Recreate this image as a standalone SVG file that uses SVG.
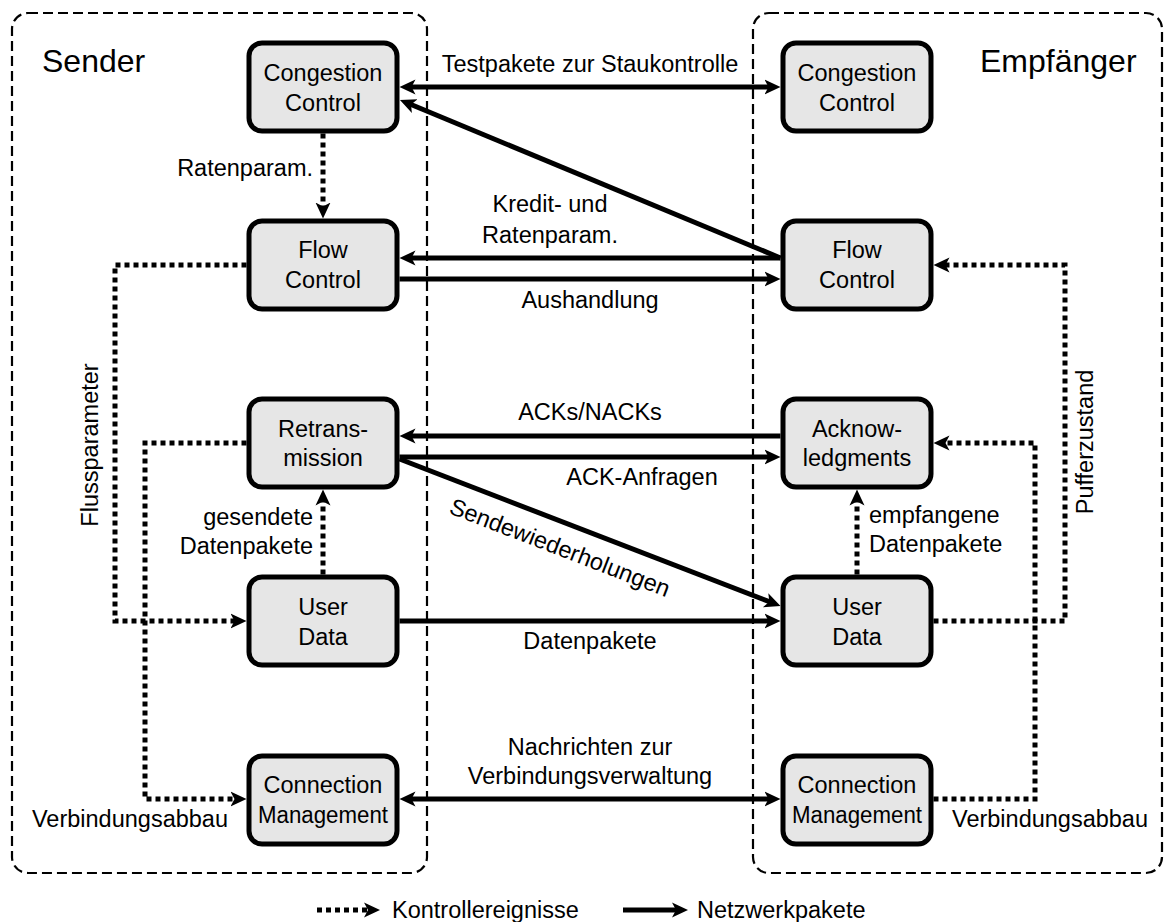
<svg xmlns="http://www.w3.org/2000/svg" width="1165" height="922" viewBox="0 0 1165 922">
  <style>
    text { font-family: "Liberation Sans", Arial, Helvetica, sans-serif; fill: #000; }
    .lbl { font-size: 23.5px; }
    .title { font-size: 32px; }
    .node rect { fill: #e6e6e6; stroke: #000; stroke-width: 5; }
    .node text { font-size: 23.5px; text-anchor: middle; }
    .region { fill: none; stroke: #000; stroke-width: 2.2; stroke-dasharray: 10 5; }
    .net { fill: none; stroke: #000; stroke-width: 5; marker-end: url(#arrow); }
    .both { marker-start: url(#arrowStart); }
    .ctl { fill: none; stroke: #000; stroke-width: 5; stroke-dasharray: 5 4; marker-end: url(#arrow); }
    .mid { text-anchor: middle; }
    .end { text-anchor: end; }
  </style>
  <defs>
    <marker id="arrow" markerUnits="userSpaceOnUse" viewBox="0 -10 20 20" markerWidth="20" markerHeight="20" refX="6" refY="0" orient="auto">
      <path d="M16,0 L0,-7.5 L4,0 L0,7.5 Z" fill="#000"/>
    </marker>
    <marker id="arrowStart" markerUnits="userSpaceOnUse" viewBox="0 -10 20 20" markerWidth="20" markerHeight="20" refX="6" refY="0" orient="auto-start-reverse">
      <path d="M16,0 L0,-7.5 L4,0 L0,7.5 Z" fill="#000"/>
    </marker>
  </defs>

  <!-- endpoint regions -->
  <g id="regions">
    <rect class="region" x="12" y="13" width="415" height="860" rx="16"/>
    <rect class="region" x="753" y="13" width="409" height="860" rx="16"/>
    <text class="title" x="42" y="72">Sender</text>
    <text class="title" x="980" y="72">Empfänger</text>
  </g>

  <!-- connectors -->
  <g id="connectors">
    <!-- network packets -->
    <path class="net both" d="M409.5,87 L770.5,87"/>
    <path class="net" d="M780.5,258 L409.2,103.8"/>
    <path class="net" d="M780.5,258 L409.5,258"/>
    <path class="net" d="M399.5,279 L770.5,279"/>
    <path class="net" d="M780.5,436 L409.5,436"/>
    <path class="net" d="M399.5,457 L770.5,457"/>
    <path class="net" d="M399.5,459 L771.2,602.4"/>
    <path class="net" d="M399.5,621 L770.5,621"/>
    <path class="net both" d="M409.5,799 L770.5,799"/>
    <!-- control events -->
    <path class="ctl" d="M323,133.5 L323,208.5"/>
    <path class="ctl" d="M323,574.5 L323,499.5"/>
    <path class="ctl" d="M857,574.5 L857,499.5"/>
    <path class="ctl" d="M246.5,265 L115,265 L115,621 L236.5,621"/>
    <path class="ctl" d="M246.5,443 L145,443 L145,799 L236.5,799"/>
    <path class="ctl" d="M933.5,621 L1065,621 L1065,265 L943.5,265"/>
    <path class="ctl" d="M933.5,799 L1035,799 L1035,443 L943.5,443"/>

    <!-- connector labels -->
    <text class="lbl mid" x="590" y="72">Testpakete zur Staukontrolle</text>
    <text class="lbl mid" x="550" y="212">Kredit- und</text>
    <text class="lbl mid" x="550" y="243">Ratenparam.</text>
    <text class="lbl mid" x="590" y="308">Aushandlung</text>
    <text class="lbl mid" x="590" y="420">ACKs/NACKs</text>
    <text class="lbl mid" x="642" y="485">ACK-Anfragen</text>
    <text class="lbl mid" transform="translate(557,555) rotate(21.1)" x="0" y="0">Sendewiederholungen</text>
    <text class="lbl mid" x="590" y="649">Datenpakete</text>
    <text class="lbl mid" x="590" y="755">Nachrichten zur</text>
    <text class="lbl mid" x="590" y="784">Verbindungsverwaltung</text>
    <text class="lbl end" x="313" y="176">Ratenparam.</text>
    <text class="lbl end" x="313" y="525">gesendete</text>
    <text class="lbl end" x="313" y="554">Datenpakete</text>
    <text class="lbl" x="869" y="523">empfangene</text>
    <text class="lbl" x="869" y="552">Datenpakete</text>
    <text class="lbl mid" transform="translate(98,445) rotate(-90)" x="0" y="0">Flussparameter</text>
    <text class="lbl mid" transform="translate(1093,442) rotate(-90)" x="0" y="0">Pufferzustand</text>
    <text class="lbl end" x="228" y="827">Verbindungsabbau</text>
    <text class="lbl" x="952" y="827">Verbindungsabbau</text>
  </g>

  <!-- sender nodes -->
  <g id="s-congestion" class="node">
    <rect x="249" y="43" width="148" height="88" rx="13"/>
    <text x="323" y="81">Congestion</text>
    <text x="323" y="111">Control</text>
  </g>
  <g id="s-flow" class="node">
    <rect x="249" y="221" width="148" height="88" rx="13"/>
    <text x="323" y="258">Flow</text>
    <text x="323" y="288">Control</text>
  </g>
  <g id="s-retrans" class="node">
    <rect x="249" y="399" width="148" height="88" rx="13"/>
    <text x="323" y="437">Retrans-</text>
    <text x="323" y="466">mission</text>
  </g>
  <g id="s-userdata" class="node">
    <rect x="249" y="577" width="148" height="88" rx="13"/>
    <text x="323" y="615">User</text>
    <text x="323" y="645">Data</text>
  </g>
  <g id="s-connection" class="node">
    <rect x="249" y="756" width="148" height="88" rx="13"/>
    <text x="323" y="793">Connection</text>
    <text x="323" y="823" textLength="130" lengthAdjust="spacingAndGlyphs">Management</text>
  </g>

  <!-- receiver nodes -->
  <g id="r-congestion" class="node">
    <rect x="783" y="43" width="148" height="88" rx="13"/>
    <text x="857" y="81">Congestion</text>
    <text x="857" y="111">Control</text>
  </g>
  <g id="r-flow" class="node">
    <rect x="783" y="221" width="148" height="88" rx="13"/>
    <text x="857" y="258">Flow</text>
    <text x="857" y="288">Control</text>
  </g>
  <g id="r-ack" class="node">
    <rect x="783" y="399" width="148" height="88" rx="13"/>
    <text x="857" y="437">Acknow-</text>
    <text x="857" y="466">ledgments</text>
  </g>
  <g id="r-userdata" class="node">
    <rect x="783" y="577" width="148" height="88" rx="13"/>
    <text x="857" y="615">User</text>
    <text x="857" y="645">Data</text>
  </g>
  <g id="r-connection" class="node">
    <rect x="783" y="756" width="148" height="88" rx="13"/>
    <text x="857" y="793">Connection</text>
    <text x="857" y="823" textLength="130" lengthAdjust="spacingAndGlyphs">Management</text>
  </g>

  <!-- legend -->
  <g id="legend">
    <path class="ctl" d="M317,910 L370,910"/>
    <text class="lbl" x="392" y="918">Kontrollereignisse</text>
    <path class="net" d="M623,910 L678,910"/>
    <text class="lbl" x="697" y="918">Netzwerkpakete</text>
  </g>
</svg>
